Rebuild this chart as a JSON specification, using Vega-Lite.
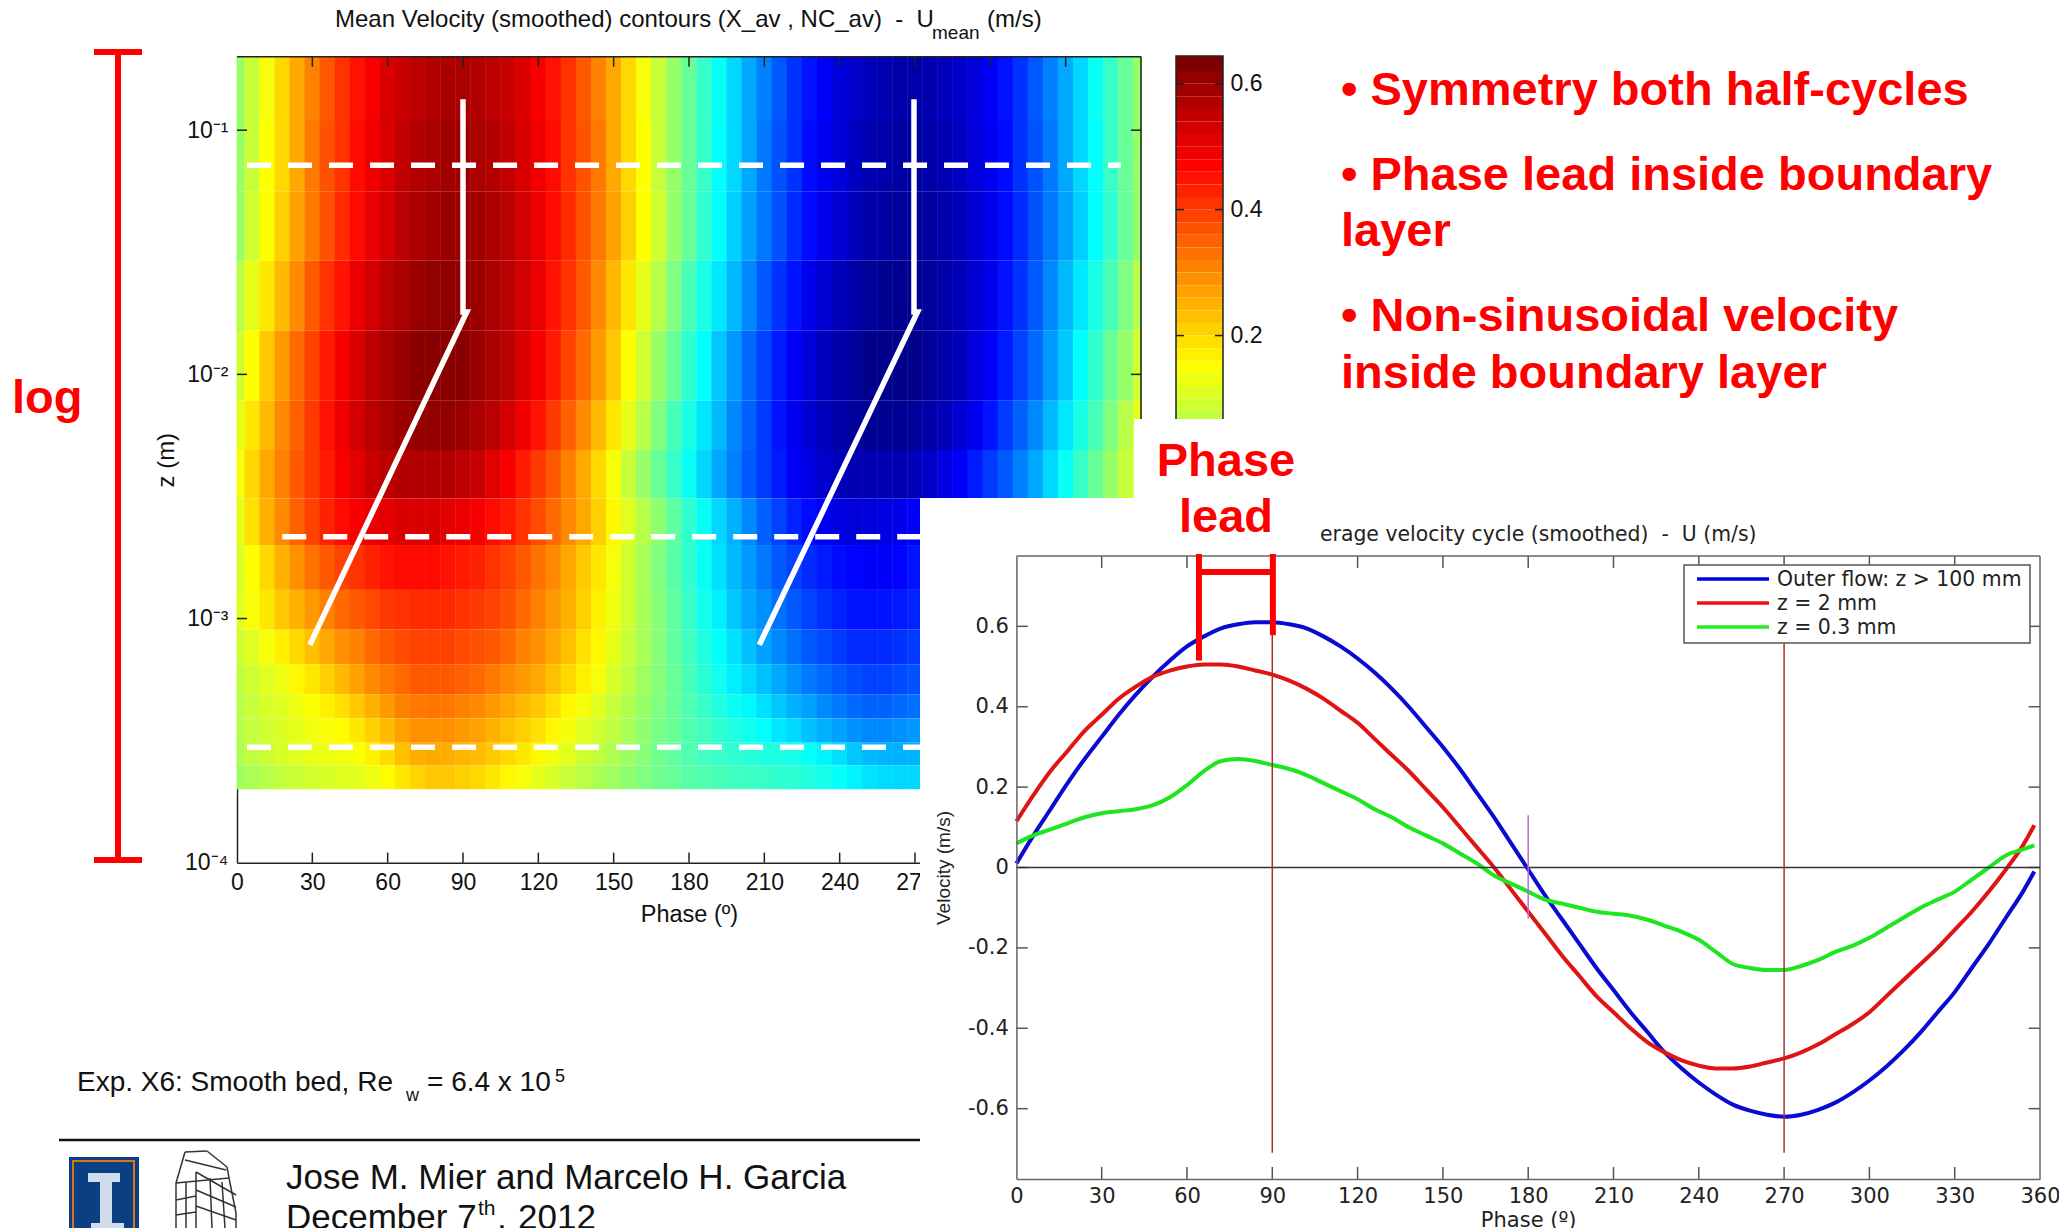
{"$schema":"https://vega.github.io/schema/vega-lite/v6.json","width":2059,"height":1228,"padding":0,"autosize":"none","background":"white","config":{"view":{"stroke":null},"axis":{"grid":false,"ticks":false,"labelFlush":false,"labelOverlap":false}},
"datasets":{
"levels":[{"z":0.15,"z1":0.2,"z2":0.109},{"z":0.08,"z1":0.109,"z2":0.056},{"z":0.04,"z1":0.056,"z2":0.0292},{"z":0.02,"z1":0.0292,"z2":0.0151},{"z":0.011,"z1":0.0151,"z2":0.0078},{"z":0.0062,"z1":0.0078,"z2":0.0049},{"z":0.0039,"z1":0.0049,"z2":0.0031},{"z":0.0025,"z1":0.0031,"z2":0.002},{"z":0.0016,"z1":0.002,"z2":0.00131},{"z":0.0011,"z1":0.00131,"z2":0.0009},{"z":0.00077,"z1":0.0009,"z2":0.00065},{"z":0.00056,"z1":0.00065,"z2":0.00049},{"z":0.00044,"z1":0.00049,"z2":0.00039},{"z":0.00035,"z1":0.00039,"z2":0.00031},{"z":0.00028,"z1":0.00031,"z2":0.00025},{"z":0.00022,"z1":0.00025,"z2":0.0002}],
"heat":[
{"p":0,"z":0.15,"u":0.03},{"p":6,"z":0.15,"u":0.09},{"p":12,"z":0.15,"u":0.15},{"p":18,"z":0.15,"u":0.21},{"p":24,"z":0.15,"u":0.27},{"p":30,"z":0.15,"u":0.32},{"p":36,"z":0.15,"u":0.37},{"p":42,"z":0.15,"u":0.42},{"p":48,"z":0.15,"u":0.46},{"p":54,"z":0.15,"u":0.49},{"p":60,"z":0.15,"u":0.53},{"p":66,"z":0.15,"u":0.55},{"p":72,"z":0.15,"u":0.57},{"p":78,"z":0.15,"u":0.58},{"p":84,"z":0.15,"u":0.59},{"p":90,"z":0.15,"u":0.59},{"p":96,"z":0.15,"u":0.58},{"p":102,"z":0.15,"u":0.57},{"p":108,"z":0.15,"u":0.55},{"p":114,"z":0.15,"u":0.53},{"p":120,"z":0.15,"u":0.49},{"p":126,"z":0.15,"u":0.46},{"p":132,"z":0.15,"u":0.42},{"p":138,"z":0.15,"u":0.37},{"p":144,"z":0.15,"u":0.32},{"p":150,"z":0.15,"u":0.27},{"p":156,"z":0.15,"u":0.21},{"p":162,"z":0.15,"u":0.15},{"p":168,"z":0.15,"u":0.09},{"p":174,"z":0.15,"u":0.03},
{"p":180,"z":0.15,"u":-0.03},{"p":186,"z":0.15,"u":-0.09},{"p":192,"z":0.15,"u":-0.15},{"p":198,"z":0.15,"u":-0.21},{"p":204,"z":0.15,"u":-0.27},{"p":210,"z":0.15,"u":-0.32},{"p":216,"z":0.15,"u":-0.37},{"p":222,"z":0.15,"u":-0.42},{"p":228,"z":0.15,"u":-0.46},{"p":234,"z":0.15,"u":-0.49},{"p":240,"z":0.15,"u":-0.53},{"p":246,"z":0.15,"u":-0.55},{"p":252,"z":0.15,"u":-0.57},{"p":258,"z":0.15,"u":-0.58},{"p":264,"z":0.15,"u":-0.59},{"p":270,"z":0.15,"u":-0.59},{"p":276,"z":0.15,"u":-0.58},{"p":282,"z":0.15,"u":-0.57},{"p":288,"z":0.15,"u":-0.55},{"p":294,"z":0.15,"u":-0.53},{"p":300,"z":0.15,"u":-0.49},{"p":306,"z":0.15,"u":-0.46},{"p":312,"z":0.15,"u":-0.42},{"p":318,"z":0.15,"u":-0.37},{"p":324,"z":0.15,"u":-0.32},{"p":330,"z":0.15,"u":-0.27},{"p":336,"z":0.15,"u":-0.21},{"p":342,"z":0.15,"u":-0.15},{"p":348,"z":0.15,"u":-0.09},{"p":354,"z":0.15,"u":-0.03},{"p":360,"z":0.15,"u":0.03},
{"p":0,"z":0.08,"u":0.03},{"p":6,"z":0.08,"u":0.09},{"p":12,"z":0.08,"u":0.16},{"p":18,"z":0.08,"u":0.21},{"p":24,"z":0.08,"u":0.27},{"p":30,"z":0.08,"u":0.33},{"p":36,"z":0.08,"u":0.38},{"p":42,"z":0.08,"u":0.42},{"p":48,"z":0.08,"u":0.47},{"p":54,"z":0.08,"u":0.5},{"p":60,"z":0.08,"u":0.53},{"p":66,"z":0.08,"u":0.56},{"p":72,"z":0.08,"u":0.58},{"p":78,"z":0.08,"u":0.59},{"p":84,"z":0.08,"u":0.6},{"p":90,"z":0.08,"u":0.6},{"p":96,"z":0.08,"u":0.59},{"p":102,"z":0.08,"u":0.58},{"p":108,"z":0.08,"u":0.56},{"p":114,"z":0.08,"u":0.53},{"p":120,"z":0.08,"u":0.5},{"p":126,"z":0.08,"u":0.47},{"p":132,"z":0.08,"u":0.42},{"p":138,"z":0.08,"u":0.38},{"p":144,"z":0.08,"u":0.33},{"p":150,"z":0.08,"u":0.27},{"p":156,"z":0.08,"u":0.21},{"p":162,"z":0.08,"u":0.16},{"p":168,"z":0.08,"u":0.09},{"p":174,"z":0.08,"u":0.03},
{"p":180,"z":0.08,"u":-0.03},{"p":186,"z":0.08,"u":-0.09},{"p":192,"z":0.08,"u":-0.16},{"p":198,"z":0.08,"u":-0.21},{"p":204,"z":0.08,"u":-0.27},{"p":210,"z":0.08,"u":-0.33},{"p":216,"z":0.08,"u":-0.38},{"p":222,"z":0.08,"u":-0.42},{"p":228,"z":0.08,"u":-0.47},{"p":234,"z":0.08,"u":-0.5},{"p":240,"z":0.08,"u":-0.53},{"p":246,"z":0.08,"u":-0.56},{"p":252,"z":0.08,"u":-0.58},{"p":258,"z":0.08,"u":-0.59},{"p":264,"z":0.08,"u":-0.6},{"p":270,"z":0.08,"u":-0.6},{"p":276,"z":0.08,"u":-0.59},{"p":282,"z":0.08,"u":-0.58},{"p":288,"z":0.08,"u":-0.56},{"p":294,"z":0.08,"u":-0.53},{"p":300,"z":0.08,"u":-0.5},{"p":306,"z":0.08,"u":-0.47},{"p":312,"z":0.08,"u":-0.42},{"p":318,"z":0.08,"u":-0.38},{"p":324,"z":0.08,"u":-0.33},{"p":330,"z":0.08,"u":-0.27},{"p":336,"z":0.08,"u":-0.21},{"p":342,"z":0.08,"u":-0.16},{"p":348,"z":0.08,"u":-0.09},{"p":354,"z":0.08,"u":-0.03},{"p":360,"z":0.08,"u":0.03},
{"p":0,"z":0.04,"u":0.03},{"p":6,"z":0.04,"u":0.1},{"p":12,"z":0.04,"u":0.16},{"p":18,"z":0.04,"u":0.22},{"p":24,"z":0.04,"u":0.28},{"p":30,"z":0.04,"u":0.33},{"p":36,"z":0.04,"u":0.38},{"p":42,"z":0.04,"u":0.43},{"p":48,"z":0.04,"u":0.47},{"p":54,"z":0.04,"u":0.51},{"p":60,"z":0.04,"u":0.54},{"p":66,"z":0.04,"u":0.57},{"p":72,"z":0.04,"u":0.59},{"p":78,"z":0.04,"u":0.6},{"p":84,"z":0.04,"u":0.61},{"p":90,"z":0.04,"u":0.61},{"p":96,"z":0.04,"u":0.6},{"p":102,"z":0.04,"u":0.59},{"p":108,"z":0.04,"u":0.57},{"p":114,"z":0.04,"u":0.54},{"p":120,"z":0.04,"u":0.51},{"p":126,"z":0.04,"u":0.47},{"p":132,"z":0.04,"u":0.43},{"p":138,"z":0.04,"u":0.38},{"p":144,"z":0.04,"u":0.33},{"p":150,"z":0.04,"u":0.28},{"p":156,"z":0.04,"u":0.22},{"p":162,"z":0.04,"u":0.16},{"p":168,"z":0.04,"u":0.1},{"p":174,"z":0.04,"u":0.03},
{"p":180,"z":0.04,"u":-0.03},{"p":186,"z":0.04,"u":-0.1},{"p":192,"z":0.04,"u":-0.16},{"p":198,"z":0.04,"u":-0.22},{"p":204,"z":0.04,"u":-0.28},{"p":210,"z":0.04,"u":-0.33},{"p":216,"z":0.04,"u":-0.38},{"p":222,"z":0.04,"u":-0.43},{"p":228,"z":0.04,"u":-0.47},{"p":234,"z":0.04,"u":-0.51},{"p":240,"z":0.04,"u":-0.54},{"p":246,"z":0.04,"u":-0.57},{"p":252,"z":0.04,"u":-0.59},{"p":258,"z":0.04,"u":-0.6},{"p":264,"z":0.04,"u":-0.61},{"p":270,"z":0.04,"u":-0.61},{"p":276,"z":0.04,"u":-0.6},{"p":282,"z":0.04,"u":-0.59},{"p":288,"z":0.04,"u":-0.57},{"p":294,"z":0.04,"u":-0.54},{"p":300,"z":0.04,"u":-0.51},{"p":306,"z":0.04,"u":-0.47},{"p":312,"z":0.04,"u":-0.43},{"p":318,"z":0.04,"u":-0.38},{"p":324,"z":0.04,"u":-0.33},{"p":330,"z":0.04,"u":-0.28},{"p":336,"z":0.04,"u":-0.22},{"p":342,"z":0.04,"u":-0.16},{"p":348,"z":0.04,"u":-0.1},{"p":354,"z":0.04,"u":-0.03},{"p":360,"z":0.04,"u":0.03},
{"p":0,"z":0.02,"u":0.07},{"p":6,"z":0.02,"u":0.13},{"p":12,"z":0.02,"u":0.19},{"p":18,"z":0.02,"u":0.25},{"p":24,"z":0.02,"u":0.31},{"p":30,"z":0.02,"u":0.37},{"p":36,"z":0.02,"u":0.42},{"p":42,"z":0.02,"u":0.46},{"p":48,"z":0.02,"u":0.51},{"p":54,"z":0.02,"u":0.54},{"p":60,"z":0.02,"u":0.57},{"p":66,"z":0.02,"u":0.59},{"p":72,"z":0.02,"u":0.61},{"p":78,"z":0.02,"u":0.62},{"p":84,"z":0.02,"u":0.625},{"p":90,"z":0.02,"u":0.62},{"p":96,"z":0.02,"u":0.61},{"p":102,"z":0.02,"u":0.59},{"p":108,"z":0.02,"u":0.57},{"p":114,"z":0.02,"u":0.54},{"p":120,"z":0.02,"u":0.51},{"p":126,"z":0.02,"u":0.46},{"p":132,"z":0.02,"u":0.42},{"p":138,"z":0.02,"u":0.37},{"p":144,"z":0.02,"u":0.31},{"p":150,"z":0.02,"u":0.25},{"p":156,"z":0.02,"u":0.19},{"p":162,"z":0.02,"u":0.13},{"p":168,"z":0.02,"u":0.07},{"p":174,"z":0.02,"u":0},
{"p":180,"z":0.02,"u":-0.07},{"p":186,"z":0.02,"u":-0.13},{"p":192,"z":0.02,"u":-0.19},{"p":198,"z":0.02,"u":-0.25},{"p":204,"z":0.02,"u":-0.31},{"p":210,"z":0.02,"u":-0.37},{"p":216,"z":0.02,"u":-0.42},{"p":222,"z":0.02,"u":-0.46},{"p":228,"z":0.02,"u":-0.51},{"p":234,"z":0.02,"u":-0.54},{"p":240,"z":0.02,"u":-0.57},{"p":246,"z":0.02,"u":-0.59},{"p":252,"z":0.02,"u":-0.61},{"p":258,"z":0.02,"u":-0.62},{"p":264,"z":0.02,"u":-0.625},{"p":270,"z":0.02,"u":-0.62},{"p":276,"z":0.02,"u":-0.61},{"p":282,"z":0.02,"u":-0.59},{"p":288,"z":0.02,"u":-0.57},{"p":294,"z":0.02,"u":-0.54},{"p":300,"z":0.02,"u":-0.51},{"p":306,"z":0.02,"u":-0.46},{"p":312,"z":0.02,"u":-0.42},{"p":318,"z":0.02,"u":-0.37},{"p":324,"z":0.02,"u":-0.31},{"p":330,"z":0.02,"u":-0.25},{"p":336,"z":0.02,"u":-0.19},{"p":342,"z":0.02,"u":-0.13},{"p":348,"z":0.02,"u":-0.07},{"p":354,"z":0.02,"u":0},{"p":360,"z":0.02,"u":0.07},
{"p":0,"z":0.011,"u":0.1},{"p":6,"z":0.011,"u":0.16},{"p":12,"z":0.011,"u":0.23},{"p":18,"z":0.011,"u":0.29},{"p":24,"z":0.011,"u":0.35},{"p":30,"z":0.011,"u":0.4},{"p":36,"z":0.011,"u":0.45},{"p":42,"z":0.011,"u":0.49},{"p":48,"z":0.011,"u":0.53},{"p":54,"z":0.011,"u":0.57},{"p":60,"z":0.011,"u":0.59},{"p":66,"z":0.011,"u":0.61},{"p":72,"z":0.011,"u":0.63},{"p":78,"z":0.011,"u":0.63},{"p":84,"z":0.011,"u":0.63},{"p":90,"z":0.011,"u":0.63},{"p":96,"z":0.011,"u":0.61},{"p":102,"z":0.011,"u":0.59},{"p":108,"z":0.011,"u":0.57},{"p":114,"z":0.011,"u":0.53},{"p":120,"z":0.011,"u":0.49},{"p":126,"z":0.011,"u":0.45},{"p":132,"z":0.011,"u":0.4},{"p":138,"z":0.011,"u":0.35},{"p":144,"z":0.011,"u":0.29},{"p":150,"z":0.011,"u":0.23},{"p":156,"z":0.011,"u":0.16},{"p":162,"z":0.011,"u":0.1},{"p":168,"z":0.011,"u":0.03},{"p":174,"z":0.011,"u":-0.03},
{"p":180,"z":0.011,"u":-0.1},{"p":186,"z":0.011,"u":-0.16},{"p":192,"z":0.011,"u":-0.23},{"p":198,"z":0.011,"u":-0.29},{"p":204,"z":0.011,"u":-0.35},{"p":210,"z":0.011,"u":-0.4},{"p":216,"z":0.011,"u":-0.45},{"p":222,"z":0.011,"u":-0.49},{"p":228,"z":0.011,"u":-0.53},{"p":234,"z":0.011,"u":-0.57},{"p":240,"z":0.011,"u":-0.59},{"p":246,"z":0.011,"u":-0.61},{"p":252,"z":0.011,"u":-0.63},{"p":258,"z":0.011,"u":-0.63},{"p":264,"z":0.011,"u":-0.63},{"p":270,"z":0.011,"u":-0.63},{"p":276,"z":0.011,"u":-0.61},{"p":282,"z":0.011,"u":-0.59},{"p":288,"z":0.011,"u":-0.57},{"p":294,"z":0.011,"u":-0.53},{"p":300,"z":0.011,"u":-0.49},{"p":306,"z":0.011,"u":-0.45},{"p":312,"z":0.011,"u":-0.4},{"p":318,"z":0.011,"u":-0.35},{"p":324,"z":0.011,"u":-0.29},{"p":330,"z":0.011,"u":-0.23},{"p":336,"z":0.011,"u":-0.16},{"p":342,"z":0.011,"u":-0.1},{"p":348,"z":0.011,"u":-0.03},{"p":354,"z":0.011,"u":0.03},{"p":360,"z":0.011,"u":0.1},
{"p":0,"z":0.0062,"u":0.13},{"p":6,"z":0.0062,"u":0.19},{"p":12,"z":0.0062,"u":0.25},{"p":18,"z":0.0062,"u":0.31},{"p":24,"z":0.0062,"u":0.36},{"p":30,"z":0.0062,"u":0.41},{"p":36,"z":0.0062,"u":0.46},{"p":42,"z":0.0062,"u":0.5},{"p":48,"z":0.0062,"u":0.54},{"p":54,"z":0.0062,"u":0.57},{"p":60,"z":0.0062,"u":0.59},{"p":66,"z":0.0062,"u":0.61},{"p":72,"z":0.0062,"u":0.62},{"p":78,"z":0.0062,"u":0.62},{"p":84,"z":0.0062,"u":0.62},{"p":90,"z":0.0062,"u":0.61},{"p":96,"z":0.0062,"u":0.59},{"p":102,"z":0.0062,"u":0.57},{"p":108,"z":0.0062,"u":0.54},{"p":114,"z":0.0062,"u":0.5},{"p":120,"z":0.0062,"u":0.46},{"p":126,"z":0.0062,"u":0.41},{"p":132,"z":0.0062,"u":0.36},{"p":138,"z":0.0062,"u":0.31},{"p":144,"z":0.0062,"u":0.25},{"p":150,"z":0.0062,"u":0.19},{"p":156,"z":0.0062,"u":0.13},{"p":162,"z":0.0062,"u":0.07},{"p":168,"z":0.0062,"u":0},{"p":174,"z":0.0062,"u":-0.07},
{"p":180,"z":0.0062,"u":-0.13},{"p":186,"z":0.0062,"u":-0.19},{"p":192,"z":0.0062,"u":-0.25},{"p":198,"z":0.0062,"u":-0.31},{"p":204,"z":0.0062,"u":-0.36},{"p":210,"z":0.0062,"u":-0.41},{"p":216,"z":0.0062,"u":-0.46},{"p":222,"z":0.0062,"u":-0.5},{"p":228,"z":0.0062,"u":-0.54},{"p":234,"z":0.0062,"u":-0.57},{"p":240,"z":0.0062,"u":-0.59},{"p":246,"z":0.0062,"u":-0.61},{"p":252,"z":0.0062,"u":-0.62},{"p":258,"z":0.0062,"u":-0.62},{"p":264,"z":0.0062,"u":-0.62},{"p":270,"z":0.0062,"u":-0.61},{"p":276,"z":0.0062,"u":-0.59},{"p":282,"z":0.0062,"u":-0.57},{"p":288,"z":0.0062,"u":-0.54},{"p":294,"z":0.0062,"u":-0.5},{"p":300,"z":0.0062,"u":-0.46},{"p":306,"z":0.0062,"u":-0.41},{"p":312,"z":0.0062,"u":-0.36},{"p":318,"z":0.0062,"u":-0.31},{"p":324,"z":0.0062,"u":-0.25},{"p":330,"z":0.0062,"u":-0.19},{"p":336,"z":0.0062,"u":-0.13},{"p":342,"z":0.0062,"u":-0.07},{"p":348,"z":0.0062,"u":0},{"p":354,"z":0.0062,"u":0.07},{"p":360,"z":0.0062,"u":0.13},
{"p":0,"z":0.0039,"u":0.15},{"p":6,"z":0.0039,"u":0.21},{"p":12,"z":0.0039,"u":0.27},{"p":18,"z":0.0039,"u":0.32},{"p":24,"z":0.0039,"u":0.37},{"p":30,"z":0.0039,"u":0.41},{"p":36,"z":0.0039,"u":0.45},{"p":42,"z":0.0039,"u":0.49},{"p":48,"z":0.0039,"u":0.52},{"p":54,"z":0.0039,"u":0.55},{"p":60,"z":0.0039,"u":0.57},{"p":66,"z":0.0039,"u":0.58},{"p":72,"z":0.0039,"u":0.58},{"p":78,"z":0.0039,"u":0.58},{"p":84,"z":0.0039,"u":0.58},{"p":90,"z":0.0039,"u":0.57},{"p":96,"z":0.0039,"u":0.55},{"p":102,"z":0.0039,"u":0.52},{"p":108,"z":0.0039,"u":0.49},{"p":114,"z":0.0039,"u":0.45},{"p":120,"z":0.0039,"u":0.41},{"p":126,"z":0.0039,"u":0.37},{"p":132,"z":0.0039,"u":0.32},{"p":138,"z":0.0039,"u":0.27},{"p":144,"z":0.0039,"u":0.21},{"p":150,"z":0.0039,"u":0.15},{"p":156,"z":0.0039,"u":0.09},{"p":162,"z":0.0039,"u":0.03},{"p":168,"z":0.0039,"u":-0.03},{"p":174,"z":0.0039,"u":-0.09},
{"p":180,"z":0.0039,"u":-0.15},{"p":186,"z":0.0039,"u":-0.21},{"p":192,"z":0.0039,"u":-0.27},{"p":198,"z":0.0039,"u":-0.32},{"p":204,"z":0.0039,"u":-0.37},{"p":210,"z":0.0039,"u":-0.41},{"p":216,"z":0.0039,"u":-0.45},{"p":222,"z":0.0039,"u":-0.49},{"p":228,"z":0.0039,"u":-0.52},{"p":234,"z":0.0039,"u":-0.55},{"p":240,"z":0.0039,"u":-0.57},{"p":246,"z":0.0039,"u":-0.58},{"p":252,"z":0.0039,"u":-0.58},{"p":258,"z":0.0039,"u":-0.58},{"p":264,"z":0.0039,"u":-0.58},{"p":270,"z":0.0039,"u":-0.57},{"p":276,"z":0.0039,"u":-0.55},{"p":282,"z":0.0039,"u":-0.52},{"p":288,"z":0.0039,"u":-0.49},{"p":294,"z":0.0039,"u":-0.45},{"p":300,"z":0.0039,"u":-0.41},{"p":306,"z":0.0039,"u":-0.37},{"p":312,"z":0.0039,"u":-0.32},{"p":318,"z":0.0039,"u":-0.27},{"p":324,"z":0.0039,"u":-0.21},{"p":330,"z":0.0039,"u":-0.15},{"p":336,"z":0.0039,"u":-0.09},{"p":342,"z":0.0039,"u":-0.03},{"p":348,"z":0.0039,"u":0.03},{"p":354,"z":0.0039,"u":0.09},
{"p":0,"z":0.0025,"u":0.13},{"p":6,"z":0.0025,"u":0.2},{"p":12,"z":0.0025,"u":0.26},{"p":18,"z":0.0025,"u":0.31},{"p":24,"z":0.0025,"u":0.36},{"p":30,"z":0.0025,"u":0.4},{"p":36,"z":0.0025,"u":0.44},{"p":42,"z":0.0025,"u":0.47},{"p":48,"z":0.0025,"u":0.49},{"p":54,"z":0.0025,"u":0.51},{"p":60,"z":0.0025,"u":0.52},{"p":66,"z":0.0025,"u":0.53},{"p":72,"z":0.0025,"u":0.53},{"p":78,"z":0.0025,"u":0.53},{"p":84,"z":0.0025,"u":0.52},{"p":90,"z":0.0025,"u":0.51},{"p":96,"z":0.0025,"u":0.49},{"p":102,"z":0.0025,"u":0.47},{"p":108,"z":0.0025,"u":0.45},{"p":114,"z":0.0025,"u":0.42},{"p":120,"z":0.0025,"u":0.39},{"p":126,"z":0.0025,"u":0.35},{"p":132,"z":0.0025,"u":0.31},{"p":138,"z":0.0025,"u":0.27},{"p":144,"z":0.0025,"u":0.22},{"p":150,"z":0.0025,"u":0.17},{"p":156,"z":0.0025,"u":0.12},{"p":162,"z":0.0025,"u":0.07},{"p":168,"z":0.0025,"u":0.02},{"p":174,"z":0.0025,"u":-0.04},
{"p":180,"z":0.0025,"u":-0.1},{"p":186,"z":0.0025,"u":-0.15},{"p":192,"z":0.0025,"u":-0.21},{"p":198,"z":0.0025,"u":-0.26},{"p":204,"z":0.0025,"u":-0.31},{"p":210,"z":0.0025,"u":-0.36},{"p":216,"z":0.0025,"u":-0.4},{"p":222,"z":0.0025,"u":-0.44},{"p":228,"z":0.0025,"u":-0.47},{"p":234,"z":0.0025,"u":-0.5},{"p":240,"z":0.0025,"u":-0.52},{"p":246,"z":0.0025,"u":-0.53},{"p":252,"z":0.0025,"u":-0.53},{"p":258,"z":0.0025,"u":-0.52},{"p":264,"z":0.0025,"u":-0.51},{"p":270,"z":0.0025,"u":-0.49},
{"p":0,"z":0.0016,"u":0.11},{"p":6,"z":0.0016,"u":0.16},{"p":12,"z":0.0016,"u":0.21},{"p":18,"z":0.0016,"u":0.26},{"p":24,"z":0.0016,"u":0.3},{"p":30,"z":0.0016,"u":0.34},{"p":36,"z":0.0016,"u":0.37},{"p":42,"z":0.0016,"u":0.4},{"p":48,"z":0.0016,"u":0.42},{"p":54,"z":0.0016,"u":0.44},{"p":60,"z":0.0016,"u":0.46},{"p":66,"z":0.0016,"u":0.47},{"p":72,"z":0.0016,"u":0.47},{"p":78,"z":0.0016,"u":0.47},{"p":84,"z":0.0016,"u":0.46},{"p":90,"z":0.0016,"u":0.45},{"p":96,"z":0.0016,"u":0.44},{"p":102,"z":0.0016,"u":0.42},{"p":108,"z":0.0016,"u":0.4},{"p":114,"z":0.0016,"u":0.37},{"p":120,"z":0.0016,"u":0.34},{"p":126,"z":0.0016,"u":0.31},{"p":132,"z":0.0016,"u":0.27},{"p":138,"z":0.0016,"u":0.23},{"p":144,"z":0.0016,"u":0.19},{"p":150,"z":0.0016,"u":0.15},{"p":156,"z":0.0016,"u":0.1},{"p":162,"z":0.0016,"u":0.05},{"p":168,"z":0.0016,"u":0},{"p":174,"z":0.0016,"u":-0.05},
{"p":180,"z":0.0016,"u":-0.1},{"p":186,"z":0.0016,"u":-0.15},{"p":192,"z":0.0016,"u":-0.2},{"p":198,"z":0.0016,"u":-0.25},{"p":204,"z":0.0016,"u":-0.29},{"p":210,"z":0.0016,"u":-0.33},{"p":216,"z":0.0016,"u":-0.37},{"p":222,"z":0.0016,"u":-0.4},{"p":228,"z":0.0016,"u":-0.43},{"p":234,"z":0.0016,"u":-0.45},{"p":240,"z":0.0016,"u":-0.47},{"p":246,"z":0.0016,"u":-0.48},{"p":252,"z":0.0016,"u":-0.49},{"p":258,"z":0.0016,"u":-0.49},{"p":264,"z":0.0016,"u":-0.48},{"p":270,"z":0.0016,"u":-0.46},
{"p":0,"z":0.0011,"u":0.12},{"p":6,"z":0.0011,"u":0.15},{"p":12,"z":0.0011,"u":0.19},{"p":18,"z":0.0011,"u":0.23},{"p":24,"z":0.0011,"u":0.26},{"p":30,"z":0.0011,"u":0.29},{"p":36,"z":0.0011,"u":0.32},{"p":42,"z":0.0011,"u":0.35},{"p":48,"z":0.0011,"u":0.37},{"p":54,"z":0.0011,"u":0.39},{"p":60,"z":0.0011,"u":0.41},{"p":66,"z":0.0011,"u":0.42},{"p":72,"z":0.0011,"u":0.43},{"p":78,"z":0.0011,"u":0.43},{"p":84,"z":0.0011,"u":0.43},{"p":90,"z":0.0011,"u":0.42},{"p":96,"z":0.0011,"u":0.41},{"p":102,"z":0.0011,"u":0.4},{"p":108,"z":0.0011,"u":0.38},{"p":114,"z":0.0011,"u":0.35},{"p":120,"z":0.0011,"u":0.32},{"p":126,"z":0.0011,"u":0.29},{"p":132,"z":0.0011,"u":0.26},{"p":138,"z":0.0011,"u":0.22},{"p":144,"z":0.0011,"u":0.18},{"p":150,"z":0.0011,"u":0.14},{"p":156,"z":0.0011,"u":0.1},{"p":162,"z":0.0011,"u":0.05},{"p":168,"z":0.0011,"u":0.01},{"p":174,"z":0.0011,"u":-0.04},
{"p":180,"z":0.0011,"u":-0.09},{"p":186,"z":0.0011,"u":-0.14},{"p":192,"z":0.0011,"u":-0.18},{"p":198,"z":0.0011,"u":-0.23},{"p":204,"z":0.0011,"u":-0.27},{"p":210,"z":0.0011,"u":-0.3},{"p":216,"z":0.0011,"u":-0.34},{"p":222,"z":0.0011,"u":-0.37},{"p":228,"z":0.0011,"u":-0.4},{"p":234,"z":0.0011,"u":-0.42},{"p":240,"z":0.0011,"u":-0.44},{"p":246,"z":0.0011,"u":-0.46},{"p":252,"z":0.0011,"u":-0.46},{"p":258,"z":0.0011,"u":-0.46},{"p":264,"z":0.0011,"u":-0.45},{"p":270,"z":0.0011,"u":-0.44},
{"p":0,"z":0.00077,"u":0.1},{"p":6,"z":0.00077,"u":0.12},{"p":12,"z":0.00077,"u":0.15},{"p":18,"z":0.00077,"u":0.18},{"p":24,"z":0.00077,"u":0.21},{"p":30,"z":0.00077,"u":0.24},{"p":36,"z":0.00077,"u":0.27},{"p":42,"z":0.00077,"u":0.3},{"p":48,"z":0.00077,"u":0.32},{"p":54,"z":0.00077,"u":0.35},{"p":60,"z":0.00077,"u":0.37},{"p":66,"z":0.00077,"u":0.39},{"p":72,"z":0.00077,"u":0.4},{"p":78,"z":0.00077,"u":0.4},{"p":84,"z":0.00077,"u":0.4},{"p":90,"z":0.00077,"u":0.39},{"p":96,"z":0.00077,"u":0.38},{"p":102,"z":0.00077,"u":0.37},{"p":108,"z":0.00077,"u":0.35},{"p":114,"z":0.00077,"u":0.32},{"p":120,"z":0.00077,"u":0.3},{"p":126,"z":0.00077,"u":0.27},{"p":132,"z":0.00077,"u":0.24},{"p":138,"z":0.00077,"u":0.2},{"p":144,"z":0.00077,"u":0.17},{"p":150,"z":0.00077,"u":0.13},{"p":156,"z":0.00077,"u":0.09},{"p":162,"z":0.00077,"u":0.05},{"p":168,"z":0.00077,"u":0.01},{"p":174,"z":0.00077,"u":-0.04},
{"p":180,"z":0.00077,"u":-0.08},{"p":186,"z":0.00077,"u":-0.12},{"p":192,"z":0.00077,"u":-0.16},{"p":198,"z":0.00077,"u":-0.2},{"p":204,"z":0.00077,"u":-0.24},{"p":210,"z":0.00077,"u":-0.28},{"p":216,"z":0.00077,"u":-0.31},{"p":222,"z":0.00077,"u":-0.34},{"p":228,"z":0.00077,"u":-0.37},{"p":234,"z":0.00077,"u":-0.39},{"p":240,"z":0.00077,"u":-0.41},{"p":246,"z":0.00077,"u":-0.43},{"p":252,"z":0.00077,"u":-0.43},{"p":258,"z":0.00077,"u":-0.43},{"p":264,"z":0.00077,"u":-0.42},{"p":270,"z":0.00077,"u":-0.41},
{"p":0,"z":0.00056,"u":0.08},{"p":6,"z":0.00056,"u":0.1},{"p":12,"z":0.00056,"u":0.12},{"p":18,"z":0.00056,"u":0.14},{"p":24,"z":0.00056,"u":0.17},{"p":30,"z":0.00056,"u":0.19},{"p":36,"z":0.00056,"u":0.22},{"p":42,"z":0.00056,"u":0.25},{"p":48,"z":0.00056,"u":0.28},{"p":54,"z":0.00056,"u":0.31},{"p":60,"z":0.00056,"u":0.33},{"p":66,"z":0.00056,"u":0.35},{"p":72,"z":0.00056,"u":0.37},{"p":78,"z":0.00056,"u":0.37},{"p":84,"z":0.00056,"u":0.37},{"p":90,"z":0.00056,"u":0.36},{"p":96,"z":0.00056,"u":0.35},{"p":102,"z":0.00056,"u":0.33},{"p":108,"z":0.00056,"u":0.31},{"p":114,"z":0.00056,"u":0.29},{"p":120,"z":0.00056,"u":0.27},{"p":126,"z":0.00056,"u":0.24},{"p":132,"z":0.00056,"u":0.21},{"p":138,"z":0.00056,"u":0.18},{"p":144,"z":0.00056,"u":0.15},{"p":150,"z":0.00056,"u":0.11},{"p":156,"z":0.00056,"u":0.08},{"p":162,"z":0.00056,"u":0.04},{"p":168,"z":0.00056,"u":0.01},{"p":174,"z":0.00056,"u":-0.03},
{"p":180,"z":0.00056,"u":-0.07},{"p":186,"z":0.00056,"u":-0.11},{"p":192,"z":0.00056,"u":-0.14},{"p":198,"z":0.00056,"u":-0.18},{"p":204,"z":0.00056,"u":-0.21},{"p":210,"z":0.00056,"u":-0.24},{"p":216,"z":0.00056,"u":-0.27},{"p":222,"z":0.00056,"u":-0.3},{"p":228,"z":0.00056,"u":-0.33},{"p":234,"z":0.00056,"u":-0.35},{"p":240,"z":0.00056,"u":-0.37},{"p":246,"z":0.00056,"u":-0.39},{"p":252,"z":0.00056,"u":-0.4},{"p":258,"z":0.00056,"u":-0.4},{"p":264,"z":0.00056,"u":-0.39},{"p":270,"z":0.00056,"u":-0.38},
{"p":0,"z":0.00044,"u":0.07},{"p":6,"z":0.00044,"u":0.09},{"p":12,"z":0.00044,"u":0.11},{"p":18,"z":0.00044,"u":0.12},{"p":24,"z":0.00044,"u":0.14},{"p":30,"z":0.00044,"u":0.16},{"p":36,"z":0.00044,"u":0.18},{"p":42,"z":0.00044,"u":0.2},{"p":48,"z":0.00044,"u":0.23},{"p":54,"z":0.00044,"u":0.26},{"p":60,"z":0.00044,"u":0.29},{"p":66,"z":0.00044,"u":0.32},{"p":72,"z":0.00044,"u":0.33},{"p":78,"z":0.00044,"u":0.335},{"p":84,"z":0.00044,"u":0.33},{"p":90,"z":0.00044,"u":0.32},{"p":96,"z":0.00044,"u":0.31},{"p":102,"z":0.00044,"u":0.29},{"p":108,"z":0.00044,"u":0.27},{"p":114,"z":0.00044,"u":0.25},{"p":120,"z":0.00044,"u":0.23},{"p":126,"z":0.00044,"u":0.2},{"p":132,"z":0.00044,"u":0.17},{"p":138,"z":0.00044,"u":0.15},{"p":144,"z":0.00044,"u":0.12},{"p":150,"z":0.00044,"u":0.09},{"p":156,"z":0.00044,"u":0.06},{"p":162,"z":0.00044,"u":0.03},{"p":168,"z":0.00044,"u":0},{"p":174,"z":0.00044,"u":-0.03},
{"p":180,"z":0.00044,"u":-0.06},{"p":186,"z":0.00044,"u":-0.09},{"p":192,"z":0.00044,"u":-0.12},{"p":198,"z":0.00044,"u":-0.15},{"p":204,"z":0.00044,"u":-0.17},{"p":210,"z":0.00044,"u":-0.2},{"p":216,"z":0.00044,"u":-0.23},{"p":222,"z":0.00044,"u":-0.26},{"p":228,"z":0.00044,"u":-0.28},{"p":234,"z":0.00044,"u":-0.31},{"p":240,"z":0.00044,"u":-0.33},{"p":246,"z":0.00044,"u":-0.35},{"p":252,"z":0.00044,"u":-0.36},{"p":258,"z":0.00044,"u":-0.36},{"p":264,"z":0.00044,"u":-0.35},{"p":270,"z":0.00044,"u":-0.34},
{"p":0,"z":0.00035,"u":0.065},{"p":6,"z":0.00035,"u":0.085},{"p":12,"z":0.00035,"u":0.1},{"p":18,"z":0.00035,"u":0.115},{"p":24,"z":0.00035,"u":0.13},{"p":30,"z":0.00035,"u":0.145},{"p":36,"z":0.00035,"u":0.155},{"p":42,"z":0.00035,"u":0.165},{"p":48,"z":0.00035,"u":0.19},{"p":54,"z":0.00035,"u":0.22},{"p":60,"z":0.00035,"u":0.25},{"p":66,"z":0.00035,"u":0.28},{"p":72,"z":0.00035,"u":0.3},{"p":78,"z":0.00035,"u":0.3},{"p":84,"z":0.00035,"u":0.3},{"p":90,"z":0.00035,"u":0.29},{"p":96,"z":0.00035,"u":0.28},{"p":102,"z":0.00035,"u":0.26},{"p":108,"z":0.00035,"u":0.24},{"p":114,"z":0.00035,"u":0.22},{"p":120,"z":0.00035,"u":0.2},{"p":126,"z":0.00035,"u":0.17},{"p":132,"z":0.00035,"u":0.15},{"p":138,"z":0.00035,"u":0.12},{"p":144,"z":0.00035,"u":0.1},{"p":150,"z":0.00035,"u":0.08},{"p":156,"z":0.00035,"u":0.05},{"p":162,"z":0.00035,"u":0.02},{"p":168,"z":0.00035,"u":-0.01},{"p":174,"z":0.00035,"u":-0.03},
{"p":180,"z":0.00035,"u":-0.06},{"p":186,"z":0.00035,"u":-0.08},{"p":192,"z":0.00035,"u":-0.1},{"p":198,"z":0.00035,"u":-0.12},{"p":204,"z":0.00035,"u":-0.14},{"p":210,"z":0.00035,"u":-0.16},{"p":216,"z":0.00035,"u":-0.19},{"p":222,"z":0.00035,"u":-0.21},{"p":228,"z":0.00035,"u":-0.24},{"p":234,"z":0.00035,"u":-0.26},{"p":240,"z":0.00035,"u":-0.28},{"p":246,"z":0.00035,"u":-0.3},{"p":252,"z":0.00035,"u":-0.31},{"p":258,"z":0.00035,"u":-0.31},{"p":264,"z":0.00035,"u":-0.3},{"p":270,"z":0.00035,"u":-0.29},
{"p":0,"z":0.00028,"u":0.06},{"p":6,"z":0.00028,"u":0.08},{"p":12,"z":0.00028,"u":0.095},{"p":18,"z":0.00028,"u":0.11},{"p":24,"z":0.00028,"u":0.125},{"p":30,"z":0.00028,"u":0.135},{"p":36,"z":0.00028,"u":0.14},{"p":42,"z":0.00028,"u":0.145},{"p":48,"z":0.00028,"u":0.155},{"p":54,"z":0.00028,"u":0.175},{"p":60,"z":0.00028,"u":0.205},{"p":66,"z":0.00028,"u":0.24},{"p":72,"z":0.00028,"u":0.265},{"p":78,"z":0.00028,"u":0.27},{"p":84,"z":0.00028,"u":0.265},{"p":90,"z":0.00028,"u":0.255},{"p":96,"z":0.00028,"u":0.245},{"p":102,"z":0.00028,"u":0.23},{"p":108,"z":0.00028,"u":0.21},{"p":114,"z":0.00028,"u":0.19},{"p":120,"z":0.00028,"u":0.17},{"p":126,"z":0.00028,"u":0.145},{"p":132,"z":0.00028,"u":0.125},{"p":138,"z":0.00028,"u":0.1},{"p":144,"z":0.00028,"u":0.08},{"p":150,"z":0.00028,"u":0.06},{"p":156,"z":0.00028,"u":0.035},{"p":162,"z":0.00028,"u":0.01},{"p":168,"z":0.00028,"u":-0.02},{"p":174,"z":0.00028,"u":-0.04},
{"p":180,"z":0.00028,"u":-0.06},{"p":186,"z":0.00028,"u":-0.08},{"p":192,"z":0.00028,"u":-0.09},{"p":198,"z":0.00028,"u":-0.1},{"p":204,"z":0.00028,"u":-0.11},{"p":210,"z":0.00028,"u":-0.12},{"p":216,"z":0.00028,"u":-0.125},{"p":222,"z":0.00028,"u":-0.135},{"p":228,"z":0.00028,"u":-0.155},{"p":234,"z":0.00028,"u":-0.175},{"p":240,"z":0.00028,"u":-0.2},{"p":246,"z":0.00028,"u":-0.23},{"p":252,"z":0.00028,"u":-0.25},{"p":258,"z":0.00028,"u":-0.255},{"p":264,"z":0.00028,"u":-0.26},{"p":270,"z":0.00028,"u":-0.255},
{"p":0,"z":0.00022,"u":0.04},{"p":6,"z":0.00022,"u":0.055},{"p":12,"z":0.00022,"u":0.07},{"p":18,"z":0.00022,"u":0.085},{"p":24,"z":0.00022,"u":0.095},{"p":30,"z":0.00022,"u":0.105},{"p":36,"z":0.00022,"u":0.11},{"p":42,"z":0.00022,"u":0.12},{"p":48,"z":0.00022,"u":0.125},{"p":54,"z":0.00022,"u":0.14},{"p":60,"z":0.00022,"u":0.165},{"p":66,"z":0.00022,"u":0.19},{"p":72,"z":0.00022,"u":0.215},{"p":78,"z":0.00022,"u":0.23},{"p":84,"z":0.00022,"u":0.23},{"p":90,"z":0.00022,"u":0.22},{"p":96,"z":0.00022,"u":0.21},{"p":102,"z":0.00022,"u":0.19},{"p":108,"z":0.00022,"u":0.17},{"p":114,"z":0.00022,"u":0.15},{"p":120,"z":0.00022,"u":0.13},{"p":126,"z":0.00022,"u":0.11},{"p":132,"z":0.00022,"u":0.09},{"p":138,"z":0.00022,"u":0.075},{"p":144,"z":0.00022,"u":0.055},{"p":150,"z":0.00022,"u":0.04},{"p":156,"z":0.00022,"u":0.02},{"p":162,"z":0.00022,"u":0},{"p":168,"z":0.00022,"u":-0.02},{"p":174,"z":0.00022,"u":-0.03},
{"p":180,"z":0.00022,"u":-0.05},{"p":186,"z":0.00022,"u":-0.06},{"p":192,"z":0.00022,"u":-0.07},{"p":198,"z":0.00022,"u":-0.08},{"p":204,"z":0.00022,"u":-0.085},{"p":210,"z":0.00022,"u":-0.09},{"p":216,"z":0.00022,"u":-0.1},{"p":222,"z":0.00022,"u":-0.105},{"p":228,"z":0.00022,"u":-0.12},{"p":234,"z":0.00022,"u":-0.135},{"p":240,"z":0.00022,"u":-0.155},{"p":246,"z":0.00022,"u":-0.175},{"p":252,"z":0.00022,"u":-0.195},{"p":258,"z":0.00022,"u":-0.205},{"p":264,"z":0.00022,"u":-0.21},{"p":270,"z":0.00022,"u":-0.21}
],
"lines":[
{"p":0,"s":"a","v":0.01},{"p":6,"s":"a","v":0.08},{"p":12,"s":"a","v":0.145},{"p":18,"s":"a","v":0.21},{"p":24,"s":"a","v":0.27},{"p":30,"s":"a","v":0.325},{"p":36,"s":"a","v":0.38},{"p":42,"s":"a","v":0.43},{"p":48,"s":"a","v":0.475},{"p":54,"s":"a","v":0.515},{"p":60,"s":"a","v":0.55},{"p":66,"s":"a","v":0.575},{"p":72,"s":"a","v":0.595},{"p":78,"s":"a","v":0.605},{"p":84,"s":"a","v":0.61},{"p":90,"s":"a","v":0.61},{"p":96,"s":"a","v":0.605},{"p":102,"s":"a","v":0.595},{"p":108,"s":"a","v":0.575},{"p":114,"s":"a","v":0.55},{"p":120,"s":"a","v":0.52},{"p":126,"s":"a","v":0.485},{"p":132,"s":"a","v":0.445},{"p":138,"s":"a","v":0.4},{"p":144,"s":"a","v":0.35},{"p":150,"s":"a","v":0.3},{"p":156,"s":"a","v":0.245},{"p":162,"s":"a","v":0.185},{"p":168,"s":"a","v":0.125},{"p":174,"s":"a","v":0.06},{"p":180,"s":"a","v":-0.005},{"p":186,"s":"a","v":-0.07},{"p":192,"s":"a","v":-0.13},{"p":198,"s":"a","v":-0.19},{"p":204,"s":"a","v":-0.25},{"p":210,"s":"a","v":-0.305},{"p":216,"s":"a","v":-0.36},{"p":222,"s":"a","v":-0.41},{"p":228,"s":"a","v":-0.46},{"p":234,"s":"a","v":-0.5},{"p":240,"s":"a","v":-0.535},{"p":246,"s":"a","v":-0.565},{"p":252,"s":"a","v":-0.59},{"p":258,"s":"a","v":-0.605},{"p":264,"s":"a","v":-0.615},{"p":270,"s":"a","v":-0.62},{"p":276,"s":"a","v":-0.615},{"p":282,"s":"a","v":-0.603},{"p":288,"s":"a","v":-0.585},{"p":294,"s":"a","v":-0.56},{"p":300,"s":"a","v":-0.53},{"p":306,"s":"a","v":-0.495},{"p":312,"s":"a","v":-0.455},{"p":318,"s":"a","v":-0.41},{"p":324,"s":"a","v":-0.36},{"p":330,"s":"a","v":-0.31},{"p":336,"s":"a","v":-0.25},{"p":342,"s":"a","v":-0.19},{"p":348,"s":"a","v":-0.125},{"p":354,"s":"a","v":-0.06},{"p":358,"s":"a","v":-0.01},
{"p":0,"s":"b","v":0.115},{"p":6,"s":"b","v":0.18},{"p":12,"s":"b","v":0.24},{"p":18,"s":"b","v":0.29},{"p":24,"s":"b","v":0.34},{"p":30,"s":"b","v":0.38},{"p":36,"s":"b","v":0.42},{"p":42,"s":"b","v":0.45},{"p":48,"s":"b","v":0.475},{"p":54,"s":"b","v":0.49},{"p":60,"s":"b","v":0.5},{"p":66,"s":"b","v":0.505},{"p":72,"s":"b","v":0.505},{"p":78,"s":"b","v":0.5},{"p":84,"s":"b","v":0.49},{"p":90,"s":"b","v":0.48},{"p":96,"s":"b","v":0.465},{"p":102,"s":"b","v":0.445},{"p":108,"s":"b","v":0.42},{"p":114,"s":"b","v":0.39},{"p":120,"s":"b","v":0.36},{"p":126,"s":"b","v":0.32},{"p":132,"s":"b","v":0.28},{"p":138,"s":"b","v":0.24},{"p":144,"s":"b","v":0.195},{"p":150,"s":"b","v":0.15},{"p":156,"s":"b","v":0.1},{"p":162,"s":"b","v":0.05},{"p":168,"s":"b","v":0},{"p":174,"s":"b","v":-0.055},{"p":180,"s":"b","v":-0.11},{"p":186,"s":"b","v":-0.165},{"p":192,"s":"b","v":-0.22},{"p":198,"s":"b","v":-0.27},{"p":204,"s":"b","v":-0.32},{"p":210,"s":"b","v":-0.36},{"p":216,"s":"b","v":-0.4},{"p":222,"s":"b","v":-0.435},{"p":228,"s":"b","v":-0.46},{"p":234,"s":"b","v":-0.48},{"p":240,"s":"b","v":-0.493},{"p":246,"s":"b","v":-0.5},{"p":252,"s":"b","v":-0.5},{"p":258,"s":"b","v":-0.495},{"p":264,"s":"b","v":-0.485},{"p":270,"s":"b","v":-0.475},{"p":276,"s":"b","v":-0.46},{"p":282,"s":"b","v":-0.44},{"p":288,"s":"b","v":-0.415},{"p":294,"s":"b","v":-0.39},{"p":300,"s":"b","v":-0.36},{"p":306,"s":"b","v":-0.32},{"p":312,"s":"b","v":-0.28},{"p":318,"s":"b","v":-0.24},{"p":324,"s":"b","v":-0.2},{"p":330,"s":"b","v":-0.155},{"p":336,"s":"b","v":-0.11},{"p":342,"s":"b","v":-0.06},{"p":348,"s":"b","v":-0.005},{"p":354,"s":"b","v":0.055},{"p":358,"s":"b","v":0.105},
{"p":0,"s":"c","v":0.06},{"p":6,"s":"c","v":0.08},{"p":12,"s":"c","v":0.095},{"p":18,"s":"c","v":0.11},{"p":24,"s":"c","v":0.125},{"p":30,"s":"c","v":0.135},{"p":36,"s":"c","v":0.14},{"p":42,"s":"c","v":0.145},{"p":48,"s":"c","v":0.155},{"p":54,"s":"c","v":0.175},{"p":60,"s":"c","v":0.205},{"p":66,"s":"c","v":0.24},{"p":72,"s":"c","v":0.265},{"p":78,"s":"c","v":0.27},{"p":84,"s":"c","v":0.265},{"p":90,"s":"c","v":0.255},{"p":96,"s":"c","v":0.245},{"p":102,"s":"c","v":0.23},{"p":108,"s":"c","v":0.21},{"p":114,"s":"c","v":0.19},{"p":120,"s":"c","v":0.17},{"p":126,"s":"c","v":0.145},{"p":132,"s":"c","v":0.125},{"p":138,"s":"c","v":0.1},{"p":144,"s":"c","v":0.08},{"p":150,"s":"c","v":0.06},{"p":156,"s":"c","v":0.035},{"p":162,"s":"c","v":0.01},{"p":168,"s":"c","v":-0.02},{"p":174,"s":"c","v":-0.04},{"p":180,"s":"c","v":-0.06},{"p":186,"s":"c","v":-0.08},{"p":192,"s":"c","v":-0.09},{"p":198,"s":"c","v":-0.1},{"p":204,"s":"c","v":-0.11},{"p":210,"s":"c","v":-0.115},{"p":216,"s":"c","v":-0.12},{"p":222,"s":"c","v":-0.13},{"p":228,"s":"c","v":-0.145},{"p":234,"s":"c","v":-0.16},{"p":240,"s":"c","v":-0.18},{"p":246,"s":"c","v":-0.21},{"p":252,"s":"c","v":-0.24},{"p":258,"s":"c","v":-0.25},{"p":264,"s":"c","v":-0.255},{"p":270,"s":"c","v":-0.255},{"p":276,"s":"c","v":-0.245},{"p":282,"s":"c","v":-0.23},{"p":288,"s":"c","v":-0.21},{"p":294,"s":"c","v":-0.195},{"p":300,"s":"c","v":-0.175},{"p":306,"s":"c","v":-0.15},{"p":312,"s":"c","v":-0.125},{"p":318,"s":"c","v":-0.1},{"p":324,"s":"c","v":-0.08},{"p":330,"s":"c","v":-0.06},{"p":336,"s":"c","v":-0.03},{"p":342,"s":"c","v":0},{"p":348,"s":"c","v":0.03},{"p":354,"s":"c","v":0.045},{"p":358,"s":"c","v":0.055}
],
"px":[{"p":30},{"p":60},{"p":90},{"p":120},{"p":150},{"p":180},{"p":210},{"p":240},{"p":270},{"p":300},{"p":330}],
"vy":[{"v":-0.6},{"v":-0.4},{"v":-0.2},{"v":0},{"v":0.2},{"v":0.4},{"v":0.6}],
"zy":[{"z":0.1},{"z":0.01},{"z":0.001}],
"cb":[{"lo":0.62,"hi":0.644},{"lo":0.6,"hi":0.62},{"lo":0.58,"hi":0.6},{"lo":0.56,"hi":0.58},{"lo":0.54,"hi":0.56},{"lo":0.52,"hi":0.54},{"lo":0.5,"hi":0.52},{"lo":0.48,"hi":0.5},{"lo":0.46,"hi":0.48},{"lo":0.44,"hi":0.46},{"lo":0.42,"hi":0.44},{"lo":0.4,"hi":0.42},{"lo":0.38,"hi":0.4},{"lo":0.36,"hi":0.38},{"lo":0.34,"hi":0.36},{"lo":0.32,"hi":0.34},{"lo":0.3,"hi":0.32},{"lo":0.28,"hi":0.3},{"lo":0.26,"hi":0.28},{"lo":0.24,"hi":0.26},{"lo":0.22,"hi":0.24},{"lo":0.2,"hi":0.22},{"lo":0.18,"hi":0.2},{"lo":0.16,"hi":0.18},{"lo":0.14,"hi":0.16},{"lo":0.12,"hi":0.14},{"lo":0.1,"hi":0.12},{"lo":0.08,"hi":0.1},{"lo":0.06,"hi":0.08}],
"redsize":[{"x":1341,"y":91,"t":"• Symmetry both half-cycles"},{"x":1341,"y":176,"t":"• Phase lead inside boundary"},{"x":1341,"y":232,"t":"layer"},{"x":1341,"y":317,"t":"• Non-sinusoidal velocity"},{"x":1341,"y":374,"t":"inside boundary layer"},{"x":12,"y":399,"t":"log"}]
},
"resolve":{"scale":{"x":"independent","y":"independent","color":"independent"}},
"layer":[
{"layer":[
{"data":{"name":"heat"},"transform":[{"lookup":"z","from":{"data":{"name":"levels"},"key":"z","fields":["z1","z2"]}}],"mark":{"type":"rect","width":15.5},
"encoding":{"x":{"field":"p","type":"quantitative","title":"Phase (º)","scale":{"domain":[0,360],"range":[237,1141],"nice":false,"zero":false},"axis":{"orient":"bottom","offset":-365.3,"values":[0,30,60,90,120,150,180,210,240,270],"labelFont":"Liberation Sans","labelFontSize":23,"labelColor":"#111","labelPadding":9,"titleFont":"Liberation Sans","titleFontSize":23.5,"titleFontWeight":"normal","titleColor":"#111","titlePadding":8,"domainColor":"#222","domainWidth":1.5}},
"y":{"field":"z1","type":"quantitative","title":"z (m)","scale":{"type":"log","domain":[0.0001,0.2],"range":[862.7,56.7],"nice":false},"axis":{"orient":"left","offset":-237,"values":[0.1,0.01,0.001,0.0001],"labelExpr":"datum.value==0.1?'10⁻¹':datum.value==0.01?'10⁻²':datum.value==0.001?'10⁻³':'10⁻⁴'","labelFont":"Liberation Sans","labelFontSize":23,"labelColor":"#111","labelPadding":9,"titleFont":"Liberation Sans","titleFontSize":24,"titleFontWeight":"normal","titleColor":"#111","titlePadding":6,"domainColor":"#222","domainWidth":1.5}},
"y2":{"field":"z2"},
"color":{"field":"u","type":"quantitative","legend":null,"scale":{"domain":[-0.644,-0.483,-0.161,0.161,0.483,0.644],"range":["#00007f","#0000ff","#00ffff","#ffff00","#ff0000","#7f0000"],"interpolate":"rgb"}}}},
{"data":{"name":"px"},"mark":{"type":"rule","color":"#222","strokeWidth":1.5},"encoding":{"x":{"field":"p","type":"quantitative"},"y":{"datum":0.2,"type":"quantitative"},"y2":{"datum":0.182}}},
{"data":{"name":"px"},"mark":{"type":"rule","color":"#222","strokeWidth":1.5},"encoding":{"x":{"field":"p","type":"quantitative"},"y":{"datum":0.0001,"type":"quantitative"},"y2":{"datum":0.00011}}},
{"data":{"name":"zy"},"mark":{"type":"rule","color":"#222","strokeWidth":1.5},"encoding":{"y":{"field":"z","type":"quantitative"},"x":{"datum":0,"type":"quantitative"},"x2":{"datum":4}}},
{"data":{"name":"zy"},"mark":{"type":"rule","color":"#222","strokeWidth":1.5},"encoding":{"y":{"field":"z","type":"quantitative"},"x":{"datum":360,"type":"quantitative"},"x2":{"datum":356}}},
{"data":{"values":[{"a":1}]},"mark":{"type":"rule","color":"#222","strokeWidth":1.5},"encoding":{"y":{"datum":0.2,"type":"quantitative"},"x":{"datum":0,"type":"quantitative"},"x2":{"datum":360}}},
{"data":{"values":[{"a":1}]},"mark":{"type":"rule","color":"#222","strokeWidth":1.5},"encoding":{"x":{"datum":360,"type":"quantitative"},"y":{"datum":0.2,"type":"quantitative"},"y2":{"datum":0.0001}}},
{"data":{"values":[{"z":0.0719,"a":4,"b":352},{"z":0.00216,"a":18,"b":300},{"z":0.000297,"a":4,"b":300}]},"mark":{"type":"rule","color":"white","strokeWidth":5.5,"strokeDash":[24,17]},"encoding":{"y":{"field":"z","type":"quantitative"},"x":{"field":"a","type":"quantitative"},"x2":{"field":"b"}}},
{"data":{"values":[{"s":"a","o":1,"p":90,"z":0.134},{"s":"a","o":2,"p":90,"z":0.018},{"s":"a","o":3,"p":91.5,"z":0.018},{"s":"a","o":4,"p":29,"z":0.00078},{"s":"b","o":1,"p":269.6,"z":0.134},{"s":"b","o":2,"p":269.6,"z":0.018},{"s":"b","o":3,"p":271,"z":0.018},{"s":"b","o":4,"p":208,"z":0.00078}]},"mark":{"type":"line","color":"white","strokeWidth":5.5},"encoding":{"x":{"field":"p","type":"quantitative"},"y":{"field":"z","type":"quantitative"},"detail":{"field":"s"},"order":{"field":"o"}}}
]},
{"layer":[
{"data":{"name":"cb"},"mark":{"type":"rect"},"encoding":{"x":{"datum":0,"type":"quantitative","axis":null,"scale":{"domain":[0,1],"range":[1176,1223],"nice":false,"zero":false}},"x2":{"datum":1},"y":{"field":"hi","type":"quantitative","title":null,"scale":{"domain":[-0.644,0.644],"range":[867,56],"nice":false,"zero":false},"axis":{"orient":"right","offset":-836,"values":[0.2,0.4,0.6],"format":".1f","labelFont":"Liberation Sans","labelFontSize":23,"labelColor":"#111","labelPadding":7,"domain":false}},"y2":{"field":"lo"},"color":{"field":"hi","type":"quantitative","legend":null,"scale":{"domain":[-0.644,-0.483,-0.161,0.161,0.483,0.644],"range":["#00007f","#0000ff","#00ffff","#ffff00","#ff0000","#7f0000"],"interpolate":"rgb"}}}},
{"data":{"values":[{"a":1}]},"mark":{"type":"rect","fill":null,"stroke":"#222","strokeWidth":1.5},"encoding":{"x":{"datum":0,"type":"quantitative"},"x2":{"datum":1},"y":{"datum":0.644,"type":"quantitative"},"y2":{"datum":-0.644}}},
{"data":{"values":[{"u":0.2},{"u":0.4},{"u":0.6}]},"mark":{"type":"rule","color":"#222","strokeWidth":1.5},"encoding":{"y":{"field":"u","type":"quantitative"},"x":{"datum":0,"type":"quantitative"},"x2":{"datum":0.17}}},
{"data":{"values":[{"u":0.2},{"u":0.4},{"u":0.6}]},"mark":{"type":"rule","color":"#222","strokeWidth":1.5},"encoding":{"y":{"field":"u","type":"quantitative"},"x":{"datum":1,"type":"quantitative"},"x2":{"datum":0.83}}}
]},
{"data":{"values":[{"x":228.5,"x2":236.5,"y":50,"y2":795},{"x":1142,"x2":1152,"y":50,"y2":420},{"x":920,"x2":2059,"y":498,"y2":1228},{"x":1134,"x2":2059,"y":419,"y2":1228}]},"mark":{"type":"rect","color":"white"},"encoding":{"x":{"field":"x","type":"quantitative","axis":null,"scale":{"domain":[0,2059],"range":[0,2059],"nice":false,"zero":false}},"x2":{"field":"x2"},"y":{"field":"y","type":"quantitative","axis":null,"scale":{"domain":[0,1228],"range":[0,1228],"nice":false,"zero":false}},"y2":{"field":"y2"}}},
{"layer":[
{"data":{"name":"lines"},"mark":{"type":"line","strokeWidth":4,"interpolate":"monotone"},"encoding":{"x":{"field":"p","type":"quantitative","title":"Phase (º)","scale":{"domain":[0,360],"range":[1016.4,2040],"nice":false,"zero":false},"axis":{"orient":"bottom","offset":-49,"zindex":1,"values":[0,30,60,90,120,150,180,210,240,270,300,330,360],"labelFont":"DejaVu Sans","labelFontSize":21,"labelColor":"#222","labelPadding":6,"titleFont":"DejaVu Sans","titleFontSize":21,"titleFontWeight":"normal","titleColor":"#222","titlePadding":3,"domainColor":"#666","domainWidth":1.5}},
"y":{"field":"v","type":"quantitative","title":"Velocity (m/s)","scale":{"domain":[-0.775,0.775],"range":[1179,556],"nice":false,"zero":false},"axis":{"orient":"left","offset":-1016.4,"zindex":1,"values":[-0.6,-0.4,-0.2,0,0.2,0.4,0.6],"labelExpr":"datum.value==0?'0':replace(format(datum.value,'.1f'),'−','-')","labelFont":"DejaVu Sans","labelFontSize":21,"labelColor":"#222","labelPadding":8,"titleFont":"Liberation Sans","titleFontSize":19,"titleFontWeight":"normal","titleColor":"#222","titlePadding":14,"domainColor":"#666","domainWidth":1.5}},
"color":{"field":"s","type":"nominal","legend":null,"scale":{"domain":["a","b","c"],"range":["#0a0ad2","#e01414","#1ee61e"]}}}},
{"data":{"name":"px"},"mark":{"type":"rule","color":"#555","strokeWidth":1.5},"encoding":{"x":{"field":"p","type":"quantitative"},"y":{"datum":0.775,"type":"quantitative"},"y2":{"datum":0.745}}},
{"data":{"name":"px"},"mark":{"type":"rule","color":"#555","strokeWidth":1.5},"encoding":{"x":{"field":"p","type":"quantitative"},"y":{"datum":-0.775,"type":"quantitative"},"y2":{"datum":-0.745}}},
{"data":{"name":"vy"},"mark":{"type":"rule","color":"#555","strokeWidth":1.5},"encoding":{"y":{"field":"v","type":"quantitative"},"x":{"datum":0,"type":"quantitative"},"x2":{"datum":4}}},
{"data":{"name":"vy"},"mark":{"type":"rule","color":"#555","strokeWidth":1.5},"encoding":{"y":{"field":"v","type":"quantitative"},"x":{"datum":360,"type":"quantitative"},"x2":{"datum":356}}},
{"data":{"values":[{"a":1}]},"mark":{"type":"rule","color":"#666","strokeWidth":1.5},"encoding":{"y":{"datum":0.775,"type":"quantitative"},"x":{"datum":0,"type":"quantitative"},"x2":{"datum":360}}},
{"data":{"values":[{"a":1}]},"mark":{"type":"rule","color":"#666","strokeWidth":1.5},"encoding":{"x":{"datum":360,"type":"quantitative"},"y":{"datum":0.775,"type":"quantitative"},"y2":{"datum":-0.775}}},
{"data":{"values":[{"a":1}]},"mark":{"type":"rule","color":"#333","strokeWidth":1.5},"encoding":{"y":{"datum":0,"type":"quantitative"},"x":{"datum":0,"type":"quantitative"},"x2":{"datum":360}}},
{"data":{"values":[{"p":90},{"p":270}]},"mark":{"type":"rule","color":"#a83232","strokeWidth":1.5},"encoding":{"x":{"field":"p","type":"quantitative"},"y":{"datum":0.71,"type":"quantitative"},"y2":{"datum":-0.71}}},
{"data":{"values":[{"p":180}]},"mark":{"type":"rule","color":"#c468d8","strokeWidth":1.5},"encoding":{"x":{"field":"p","type":"quantitative"},"y":{"datum":0.13,"type":"quantitative"},"y2":{"datum":-0.127}}},
{"data":{"values":[{"a":64.2,"b":64.2,"h":0.78,"l":0.515},{"a":90.2,"b":90.2,"h":0.78,"l":0.578},{"a":64.2,"b":90.2,"h":0.735,"l":0.735}]},"mark":{"type":"rule","color":"#ff0000","strokeWidth":6},"encoding":{"x":{"field":"a","type":"quantitative"},"x2":{"field":"b"},"y":{"field":"h","type":"quantitative"},"y2":{"field":"l"}}}
]},
{"encoding":{"x":{"field":"x","type":"quantitative","axis":null,"scale":{"domain":[0,2059],"range":[0,2059],"nice":false,"zero":false}},"y":{"field":"y","type":"quantitative","axis":null,"scale":{"domain":[0,1228],"range":[0,1228],"nice":false,"zero":false}}},
"layer":[
{"data":{"values":[{"x":1684,"x2":2030,"y":565,"y2":643}]},"mark":{"type":"rect","fill":"white","stroke":"#555","strokeWidth":1.5},"encoding":{"x2":{"field":"x2"},"y2":{"field":"y2"}}},
{"data":{"values":[{"x":1697,"x2":1769,"y":579}]},"mark":{"type":"rule","color":"#0000e0","strokeWidth":3.5},"encoding":{"x2":{"field":"x2"}}},
{"data":{"values":[{"x":1697,"x2":1769,"y":603}]},"mark":{"type":"rule","color":"#f01010","strokeWidth":3.5},"encoding":{"x2":{"field":"x2"}}},
{"data":{"values":[{"x":1697,"x2":1769,"y":627}]},"mark":{"type":"rule","color":"#20f020","strokeWidth":3.5},"encoding":{"x2":{"field":"x2"}}},
{"data":{"values":[{"x":1320,"y":535,"t":"erage velocity cycle (smoothed)\u00a0\u00a0-\u00a0\u00a0U (m/s)"},{"x":1777,"y":580,"t":"Outer flow: z > 100 mm"},{"x":1777,"y":604,"t":"z = 2 mm"},{"x":1777,"y":628,"t":"z = 0.3 mm"}]},"mark":{"type":"text","font":"DejaVu Sans","fontSize":20.4,"align":"left","baseline":"middle","color":"#222"},"encoding":{"text":{"field":"t"}}},
{"data":{"name":"redsize"},"mark":{"type":"text","font":"Liberation Sans","fontWeight":"bold","fontSize":47,"align":"left","baseline":"middle","color":"#ff0000"},"encoding":{"text":{"field":"t"}}},
{"data":{"values":[{"x":1226,"y":462,"t":"Phase"},{"x":1226,"y":518,"t":"lead"}]},"mark":{"type":"text","font":"Liberation Sans","fontWeight":"bold","fontSize":47,"align":"center","baseline":"middle","color":"#ff0000"},"encoding":{"text":{"field":"t"}}},
{"data":{"values":[{"x":335,"y":20,"t":"Mean Velocity (smoothed) contours (X_av , NC_av)\u00a0\u00a0-\u00a0\u00a0U"},{"x":987,"y":20,"t":"(m/s)"}]},"mark":{"type":"text","font":"Liberation Sans","fontSize":24,"align":"left","baseline":"middle","color":"#111"},"encoding":{"text":{"field":"t"}}},
{"data":{"values":[{"x":932,"y":33,"t":"mean"}]},"mark":{"type":"text","font":"Liberation Sans","fontSize":19,"align":"left","baseline":"middle","color":"#111"},"encoding":{"text":{"field":"t"}}},
{"data":{"values":[{"x":77,"y":1083,"t":"Exp. X6: Smooth bed, Re"},{"x":427,"y":1083,"t":"= 6.4 x 10"}]},"mark":{"type":"text","font":"Liberation Sans","fontSize":28,"align":"left","baseline":"middle","color":"#111"},"encoding":{"text":{"field":"t"}}},
{"data":{"values":[{"x":406,"y":1096,"t":"w"},{"x":555,"y":1077,"t":"5"}]},"mark":{"type":"text","font":"Liberation Sans","fontSize":18,"align":"left","baseline":"middle","color":"#111"},"encoding":{"text":{"field":"t"}}},
{"data":{"values":[{"x":286,"y":1178,"t":"Jose M. Mier and Marcelo H. Garcia"},{"x":286,"y":1218,"t":"December 7"},{"x":497,"y":1218,"t":","},{"x":518,"y":1218,"t":"2012"}]},"mark":{"type":"text","font":"Liberation Sans","fontSize":35,"align":"left","baseline":"middle","color":"#111"},"encoding":{"text":{"field":"t"}}},
{"data":{"values":[{"x":478,"y":1209,"t":"th"}]},"mark":{"type":"text","font":"Liberation Sans","fontSize":21,"align":"left","baseline":"middle","color":"#111"},"encoding":{"text":{"field":"t"}}},
{"data":{"values":[{"x":118,"x2":118,"y":52,"y2":860},{"x":94,"x2":142,"y":52,"y2":52},{"x":94,"x2":142,"y":860,"y2":860}]},"mark":{"type":"rule","color":"#ff0000","strokeWidth":6},"encoding":{"x2":{"field":"x2"},"y2":{"field":"y2"}}},
{"data":{"values":[{"x":59,"x2":920,"y":1140}]},"mark":{"type":"rule","color":"#111","strokeWidth":2.5},"encoding":{"x2":{"field":"x2"}}},
{"data":{"values":[{"x":69,"x2":139,"y":1157,"y2":1228}]},"mark":{"type":"rect","color":"#0a3f84"},"encoding":{"x2":{"field":"x2"},"y2":{"field":"y2"}}},
{"data":{"values":[{"x":73,"x2":134,"y":1161,"y2":1232}]},"mark":{"type":"rect","fill":null,"stroke":"#e07020","strokeWidth":2},"encoding":{"x2":{"field":"x2"},"y2":{"field":"y2"}}},
{"data":{"values":[{"x":88,"x2":120,"y":1173,"y2":1182},{"x":100,"x2":112,"y":1182,"y2":1223},{"x":91,"x2":124,"y":1223,"y2":1228}]},"mark":{"type":"rect","color":"#cfdcec"},"encoding":{"x2":{"field":"x2"},"y2":{"field":"y2"}}},
{"data":{"values":[{"x":176,"y":1183,"x2":185,"y2":1152},{"x":185,"y":1152,"x2":207,"y2":1151},{"x":207,"y":1151,"x2":227,"y2":1167},{"x":227,"y":1167,"x2":229,"y2":1178},{"x":176,"y":1183,"x2":229,"y2":1178},{"x":185,"y":1160,"x2":226,"y2":1170},{"x":176,"y":1183,"x2":176,"y2":1228},{"x":196,"y":1172,"x2":196,"y2":1228},{"x":229,"y":1178,"x2":236,"y2":1213},{"x":236,"y":1213,"x2":236,"y2":1228},{"x":196,"y":1172,"x2":236,"y2":1195},{"x":196,"y":1190,"x2":236,"y2":1207},{"x":196,"y":1206,"x2":236,"y2":1220},{"x":210,"y":1178,"x2":212,"y2":1228},{"x":222,"y":1182,"x2":225,"y2":1228},{"x":176,"y":1200,"x2":196,"y2":1196},{"x":176,"y":1215,"x2":196,"y2":1212},{"x":186,"y":1182,"x2":186,"y2":1228}]},"mark":{"type":"rule","color":"#333","strokeWidth":1.5},"encoding":{"x2":{"field":"x2"},"y2":{"field":"y2"}}}
]}
]}
